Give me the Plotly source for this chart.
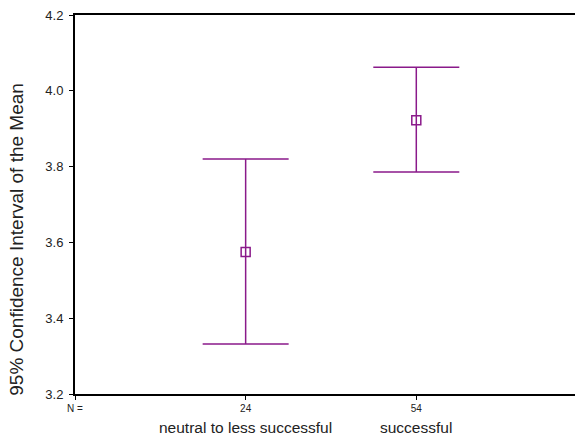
import plotly.graph_objects as go

# Group summaries: means with 95% confidence limits
groups = ["neutral to less successful", "successful"]
group_n = ["24", "54"]
means = [3.575, 3.922]
lower_ci = [3.332, 3.786]
upper_ci = [3.820, 4.062]

y_ticks = [3.2, 3.4, 3.6, 3.8, 4.0, 4.2]

purple = "#8a1a8a"
xpos = list(range(1, len(groups) + 1))

fig = go.Figure()
fig.add_trace(go.Scatter(
    x=xpos,
    y=means,
    mode="markers",
    marker=dict(symbol="square-open", size=9, color=purple, line=dict(width=1.5, color=purple)),
    error_y=dict(
        type="data",
        symmetric=False,
        array=[u - m for u, m in zip(upper_ci, means)],
        arrayminus=[m - l for m, l in zip(means, lower_ci)],
        color=purple,
        thickness=1.5,
        width=43,
    ),
    showlegend=False,
    hoverinfo="skip",
))

# Category names beneath the N row
for xp, name in zip(xpos, groups):
    fig.add_annotation(
        x=xp, y=0, xref="x", yref="paper",
        text=name, showarrow=False, yanchor="top", yshift=-23,
        font=dict(size=15.5, color="#222222"),
    )

# Rotated y-axis title
fig.add_annotation(
    x=0, y=3.607, xref="paper", yref="y",
    xanchor="center", yanchor="middle",
    xshift=-58, text="95% Confidence Interval of the Mean",
    textangle=-90, showarrow=False,
    font=dict(size=19, color="#222222"),
)

fig.update_layout(
    width=575, height=438,
    margin=dict(l=75, r=0, t=15, b=44),
    paper_bgcolor="white", plot_bgcolor="white",
    font=dict(family="Liberation Sans, Arial, sans-serif", color="#222222"),
    xaxis=dict(
        range=[0, 2.93],
        tickvals=[0] + xpos,
        ticktext=["N ="] + group_n,
        tickfont=dict(size=10),
        ticks="outside", ticklen=4, tickwidth=1, tickcolor="black",
        showline=True, linecolor="black", linewidth=2, mirror=True,
        showgrid=False, zeroline=False,
    ),
    yaxis=dict(
        range=[3.2, 4.2],
        tickvals=y_ticks,
        ticktext=[f"{v:.1f}" for v in y_ticks],
        tickfont=dict(size=13),
        ticks="outside", ticklen=4, tickwidth=1, tickcolor="black",
        ticklabelstandoff=3,
        showline=True, linecolor="black", linewidth=2,
        showgrid=False, zeroline=False,
    ),
)

fig.write_html("out.html")
